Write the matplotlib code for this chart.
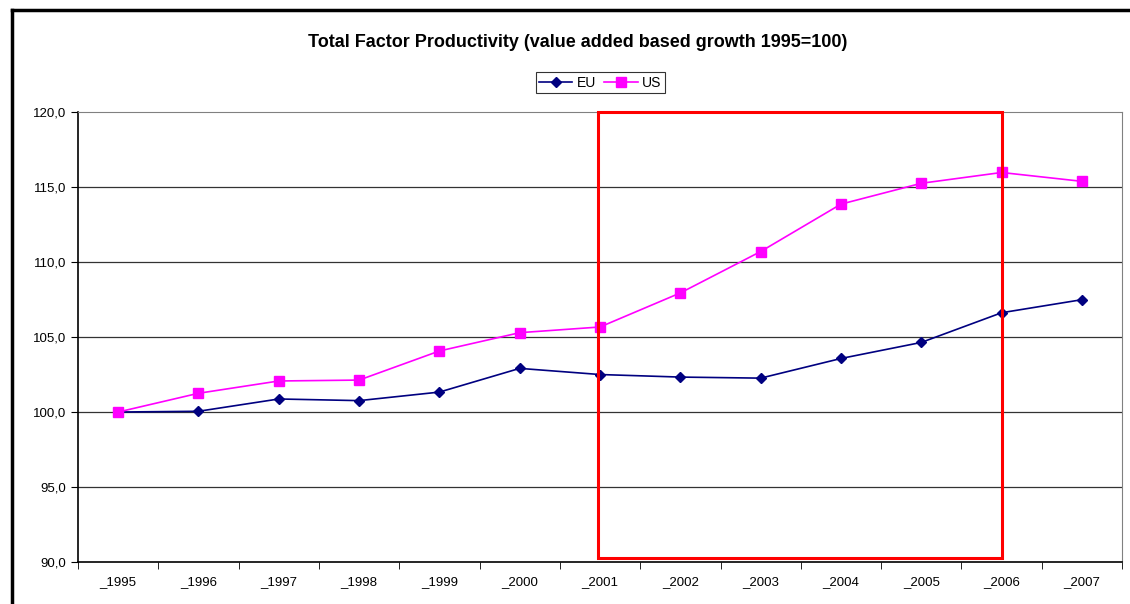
import matplotlib.pyplot as plt
import matplotlib.patches as patches
import numpy as np

plt.rcParams['font.family'] = ['Liberation Sans', 'DejaVu Sans']

years = ['_1995', '_1996', '_1997', '_1998', '_1999', '_2000', '_2001',
         '_2002', '_2003', '_2004', '_2005', '_2006', '_2007']
eu = [100.0, 100.05, 100.87, 100.76, 101.33, 102.91, 102.5,
      102.33, 102.26, 103.57, 104.64, 106.62, 107.49]
us = [100.0, 101.25, 102.07, 102.13, 104.07, 105.29, 105.67,
      107.94, 110.7, 113.86, 115.25, 115.97, 115.38]
y_ticks = [90, 95, 100, 105, 110, 115, 120]

fig = plt.figure(figsize=(11.3, 6.04), dpi=100)
ax = fig.add_axes([0.069, 0.0695, 0.924, 0.745])

x = np.arange(len(years))
ax.plot(x, eu, color='#000080', marker='D', markersize=5, linewidth=1.2, label='EU')
ax.plot(x, us, color='#FF00FF', marker='s', markersize=6.5, linewidth=1.2, label='US')

ax.set_xlim(-0.5, len(years) - 0.5)
ax.set_ylim(90, 120)
ax.set_yticks(y_ticks)
ax.set_yticklabels([f'{v:.1f}'.replace('.', ',') for v in y_ticks], fontsize=9.5)

# category labels at slot centres, ticks at slot boundaries
ax.set_xticks(x)
ax.set_xticklabels(years, fontsize=9.5)
ax.tick_params(axis='x', which='major', length=0, pad=10)
ax.set_xticks(np.arange(-0.5, len(years)), minor=True)
ax.tick_params(axis='x', which='minor', length=5, direction='out', color='black')
ax.tick_params(axis='y', length=5, direction='out', color='black')

for v in y_ticks[1:-1]:
    ax.axhline(v, color='#333333', linewidth=0.9, zorder=0)

ax.spines['left'].set_color('black')
ax.spines['bottom'].set_color('black')
ax.spines['left'].set_linewidth(1.2)
ax.spines['bottom'].set_linewidth(1.2)
ax.spines['top'].set_color('#808080')
ax.spines['right'].set_color('#808080')

# highlight box 2001-2006
rect = patches.Rectangle((5.97, 90.3), 11.0 - 5.97, 29.7, fill=False,
                         edgecolor='red', linewidth=2.2, zorder=3, clip_on=False)
ax.add_patch(rect)

fig.text(0.511, 0.929, 'Total Factor Productivity (value added based growth 1995=100)',
         ha='center', va='center', fontsize=13, fontweight='bold')

leg = ax.legend(loc='center', bbox_to_anchor=(0.5, 1.065), ncol=2, fontsize=10,
                frameon=True, fancybox=False, edgecolor='black', borderpad=0.25,
                handlelength=2.4, handletextpad=0.3, columnspacing=0.6, borderaxespad=0)
leg.get_frame().set_linewidth(0.8)

# outer chart border
fig.add_artist(plt.Line2D([0.0106, 0.0106], [0, 0.984], color='black', linewidth=2.5))
fig.add_artist(plt.Line2D([0.0106, 1.0], [0.984, 0.984], color='black', linewidth=2.5))

fig.savefig('out.png', dpi=100)
